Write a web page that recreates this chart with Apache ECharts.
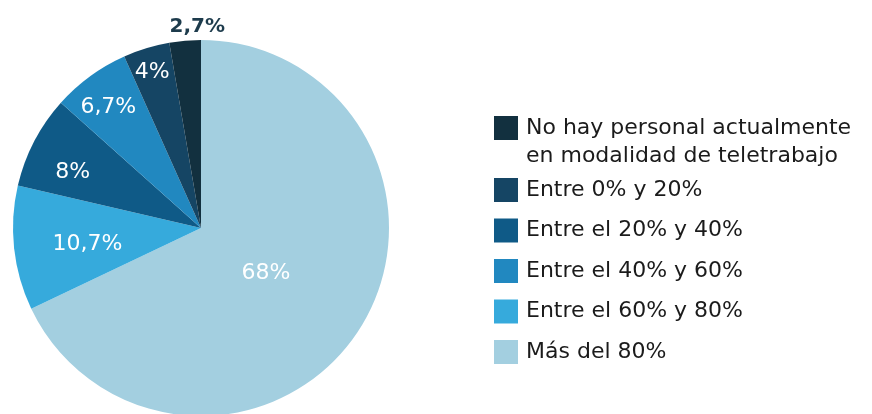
<!DOCTYPE html>
<html><head><meta charset="utf-8">
<script src="https://cdn.jsdelivr.net/npm/echarts@6/dist/echarts.min.js"></script>
<style>html,body{margin:0;padding:0;background:#fff}#c{width:872px;height:414px}</style>
</head><body><div id="c"></div>
<script>
// Data (pie order, clockwise from 12 o'clock)
var categories = ['Más del 80%', 'Entre el 60% y 80%', 'Entre el 20% y 40%', 'Entre el 40% y 60%', 'Entre 0% y 20%', 'No hay personal actualmente\nen modalidad de teletrabajo'];
var values = [68, 10.7, 8, 6.7, 4, 2.7];
var valueLabels = ['68%', '10,7%', '8%', '6,7%', '4%', '2,7%'];
var colors = ['#a3cfe0', '#36aadc', '#0f5a87', '#2188c0', '#154564', '#12303f'];
var legendFirst = ['No hay personal actualmente\nen modalidad de teletrabajo'];
var legendRest = ['Entre 0% y 20%', 'Entre el 20% y 40%', 'Entre el 40% y 60%', 'Entre el 60% y 80%', 'Más del 80%'];
// label placement: distance from center (fraction of radius) and angle shift (deg) from slice middle
var labelFrac = [0.42, 0.61, 0.743, 0.808, 0.868, 1.069];
var labelShift = [2.3, -2, -4.1, -1.45, -0.5, 3.8];

var CX = 201, CY = 228, R = 188;
var total = values.reduce(function(a, b){ return a + b; }, 0);
var mids = [];
(function(){ var acc = 0; values.forEach(function(v){ mids.push((acc + v / 2) / total * 2 * Math.PI); acc += v; }); })();

var chart = echarts.init(document.getElementById('c'));
var font = 'DejaVu Sans';
chart.setOption({
  animation: false,
  legend: [{
    orient: 'vertical', left: 489, top: 81, itemWidth: 24, itemHeight: 24,
    icon: 'rect', selectedMode: false, data: legendFirst,
    formatter: function(n){ return '\u00a0\n' + n; },
    textStyle: { fontFamily: font, fontSize: 22, color: '#1b1b1b', lineHeight: 28, padding: [0, 0, 0, 3] }
  }, {
    orient: 'vertical', left: 489, top: 173, itemWidth: 24, itemHeight: 24, itemGap: 16.5,
    icon: 'rect', selectedMode: false, data: legendRest,
    textStyle: { fontFamily: font, fontSize: 22, color: '#1b1b1b', lineHeight: 24, padding: [0, 0, 0, 3] }
  }],
  series: [{
    type: 'pie', center: [CX, CY], radius: R, startAngle: 90, clockwise: true,
    avoidLabelOverlap: false,
    data: categories.map(function(n, i){
      return { name: n, value: values[i], itemStyle: { color: colors[i] },
        label: i === 5 ? { color: '#1d3b4c', fontWeight: 'bold', fontSize: 20 } : {} };
    }),
    label: {
      show: true, position: 'inside', fontFamily: font, fontSize: 22, color: '#ffffff',
      formatter: function(p){ return valueLabels[p.dataIndex]; }
    },
    labelLine: { show: false },
    emphasis: { disabled: true }
  }]
});
chart.setOption({
  series: [{
    labelLayout: function(p){
      var i = p.dataIndex, a = mids[i] + labelShift[i] * Math.PI / 180, f = labelFrac[i];
      return { x: CX + f * R * Math.sin(a), y: CY - f * R * Math.cos(a), align: 'center', verticalAlign: 'middle' };
    }
  }]
});
</script></body></html>
